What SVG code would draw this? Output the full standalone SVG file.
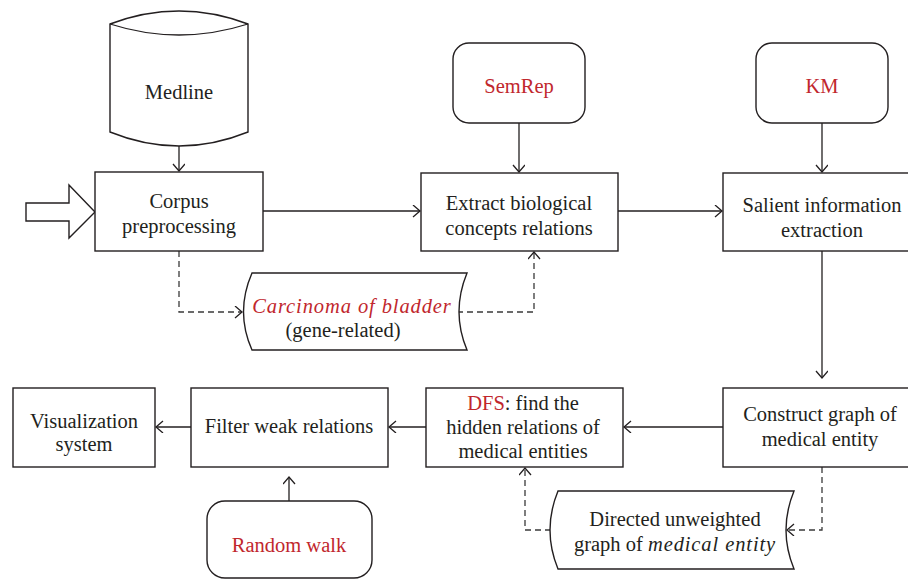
<svg xmlns="http://www.w3.org/2000/svg" width="908" height="580" viewBox="0 0 908 580">
<defs>
<marker id="ah" markerWidth="14" markerHeight="14" refX="8" refY="6" orient="auto" markerUnits="userSpaceOnUse">
<path d="M1,0 L8,6 L1,12" fill="none" stroke="#231f20" stroke-width="1.3"/>
</marker>
<style>
.box{fill:#fff;stroke:#231f20;stroke-width:1.4}
.ln{fill:none;stroke:#231f20;stroke-width:1.3}
.dl{fill:none;stroke:#3a3a3a;stroke-width:1.3;stroke-dasharray:6 4}
text{font-family:"Liberation Serif","Times New Roman",serif;font-size:20.5px;fill:#231f20;text-anchor:middle}
.red{fill:#c1272d}
.it{font-style:italic;letter-spacing:0.9px}
</style>
</defs>
<rect width="908" height="580" fill="#fff"/>

<g id="connectors">
<line class="ln" x1="179" y1="146" x2="179" y2="171" marker-end="url(#ah)"/>
<line class="ln" x1="263" y1="211" x2="420" y2="211" marker-end="url(#ah)"/>
<line class="ln" x1="519" y1="123" x2="519" y2="172" marker-end="url(#ah)"/>
<line class="ln" x1="618" y1="211" x2="722" y2="211" marker-end="url(#ah)"/>
<line class="ln" x1="822" y1="123" x2="822" y2="172" marker-end="url(#ah)"/>
<line class="ln" x1="822" y1="251" x2="822" y2="378" marker-end="url(#ah)"/>
<line class="ln" x1="723" y1="427" x2="624" y2="427" marker-end="url(#ah)"/>
<line class="ln" x1="426" y1="427" x2="389" y2="427" marker-end="url(#ah)"/>
<line class="ln" x1="191" y1="427" x2="156" y2="427" marker-end="url(#ah)"/>
<line class="ln" x1="289" y1="501" x2="289" y2="477" marker-end="url(#ah)"/>
<path class="dl" d="M179,251 V312 H242" marker-end="url(#ah)"/>
<path class="dl" d="M457,312 H534 V252" marker-end="url(#ah)"/>
<path class="dl" d="M822,467 V530 H787" marker-end="url(#ah)"/>
<path class="dl" d="M551,530 H525 V468" marker-end="url(#ah)"/>
</g>

<g id="input-arrow">
<path class="box" d="M26,203 H69 V185 L95,212 L69,238 V221 H26 Z"/>
</g>

<g id="medline">
<path class="box" d="M110,24 Q179,-2 248,24 V132 Q179,160 110,132 Z"/>
<path class="ln" d="M110,24 Q179,46 248,24"/>
<text x="179" y="99">Medline</text>
</g>

<g id="corpus">
<rect class="box" x="95" y="172" width="168" height="79"/>
<text x="179" y="208">Corpus</text>
<text x="179" y="233">preprocessing</text>
</g>

<g id="semrep">
<rect class="box" x="453" y="43" width="132" height="80" rx="16"/>
<text class="red" x="519" y="93">SemRep</text>
</g>

<g id="extract">
<rect class="box" x="421" y="173" width="197" height="78"/>
<text x="519" y="210">Extract biological</text>
<text x="519" y="235">concepts relations</text>
</g>

<g id="km">
<rect class="box" x="756" y="43" width="132" height="80" rx="16"/>
<text class="red" x="822" y="93">KM</text>
</g>

<g id="salient">
<rect class="box" x="723" y="173" width="198" height="78"/>
<text x="822" y="212">Salient information</text>
<text x="822" y="237">extraction</text>
</g>

<g id="carcinoma">
<path class="box" d="M252,273 H467 Q451,312 467,350 H252 Q235,312 252,273 Z"/>
<text class="red it" x="352" y="313">Carcinoma of bladder</text>
<text x="343" y="337">(gene-related)</text>
</g>

<g id="construct">
<rect class="box" x="723" y="388" width="198" height="79"/>
<text x="820" y="421">Construct graph of</text>
<text x="820" y="446">medical entity</text>
</g>

<g id="dfs">
<rect class="box" x="426" y="388" width="197" height="79"/>
<text x="523" y="410"><tspan class="red">DFS</tspan>: find the</text>
<text x="523" y="434">hidden relations of</text>
<text x="523" y="458">medical entities</text>
</g>

<g id="directed">
<path class="box" d="M558,491 H794 Q778,530 794,569 H558 Q542,530 558,491 Z"/>
<text x="675" y="526">Directed unweighted</text>
<text x="675" y="551">graph of <tspan class="it">medical entity</tspan></text>
</g>

<g id="filter">
<rect class="box" x="191" y="388" width="197" height="79"/>
<text x="289" y="433">Filter weak relations</text>
</g>

<g id="visualization">
<rect class="box" x="13" y="388" width="142" height="79"/>
<text x="84" y="428">Visualization</text>
<text x="84" y="451">system</text>
</g>

<g id="randomwalk">
<rect class="box" x="207" y="501" width="165" height="77" rx="18"/>
<text class="red" x="289" y="552">Random walk</text>
</g>
</svg>
